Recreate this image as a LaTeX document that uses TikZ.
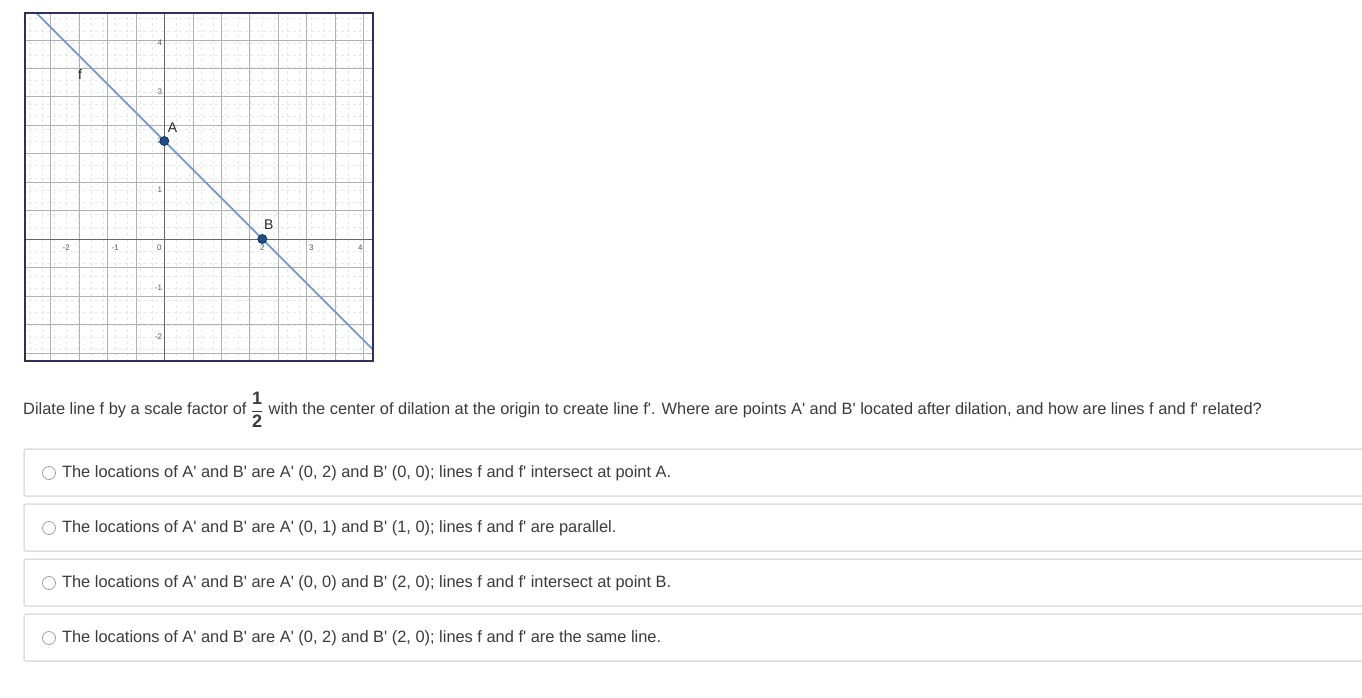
\documentclass[tikz,border=0pt]{standalone}
\usepackage{amsmath}
\usepackage{fontspec}
\setmainfont{Liberation Sans}
\usepackage{tikz}
\usetikzlibrary{positioning,calc}
\definecolor{txt}{HTML}{3A3A3A}
\definecolor{fline}{HTML}{6E9BCB}
\definecolor{fpoint}{HTML}{1F4E8C}
\definecolor{frame}{HTML}{2E2F5E}
\definecolor{boxgray}{HTML}{DEDEDE}
\newcommand{\pr}{\textquotesingle}
\tikzset{
    qtext/.style={anchor=west,inner sep=0pt,text=txt,font=\fontsize{16.4}{19}\selectfont},
    optbox/.style={draw=boxgray,line width=1.5pt,rounded corners=2pt},
    radio/.style={circle,draw=gray!75,line width=0.8pt,minimum size=13pt,inner sep=0pt},
    tick/.style={font=\fontsize{8}{9}\selectfont,text=gray!70!black,inner sep=1pt},
    dot/.style={circle,fill=fpoint,draw=fpoint!60!black,line width=0.8pt,minimum size=9pt,inner sep=0pt},
    ptlabel/.style={font=\fontsize{14}{15}\selectfont,text=black!85,inner sep=0pt}
}

\begin{document}
\begin{tikzpicture}[x=1pt,y=-1pt]
            \useasboundingbox (0,0) rectangle (1362,698);
            \begin{scope}[shift={(164.3,239)},x=49pt,y=49pt]
                \begin{scope}
                    \clip (-2.84,-2.48) rectangle (4.25,4.61);
                    \draw[gray!18,dashed,line width=0.4pt] (-3,-3) grid[step=0.25] (5,5);
                    \draw[gray!60,line width=0.5pt] (-3,-3) grid (5,5);
                    \draw[gray!80!black,line width=0.7pt] (-3,0) -- (5,0);
                    \draw[gray!80!black,line width=0.7pt] (0,-3) -- (0,5);
                    \foreach \x in {-2,-1,2,3,4}
                        \node[tick] at (\x,-0.17) {\x};
                    \foreach \y in {-2,-1,1,2,3,4}
                        \node[tick,anchor=east] at (-0.02,\y) {\y};
                    \node[tick] (O) at (-0.1,-0.17) {0};
                    \coordinate (A) at (0,2);
                    \coordinate (B) at (2,0);
                    \draw[fline,line width=1.8pt] ($(A)!-2!(B)$) -- ($(B)!-2!(A)$);
                    \node[dot] (Adot) at (A) {};
                    \node[dot] (Bdot) at (B) {};
                    \node[ptlabel] (Alab) at (0.17,2.28) {A};
                    \node[ptlabel] (Blab) at (2.13,0.3) {B};
                    \node[ptlabel] (flab) at (-1.72,3.36) {f};
                \end{scope}
                \draw[frame,line width=2pt] (-2.84,-2.48) rectangle (4.25,4.61);
            \end{scope}
            \node[qtext] (q1) at (23,410) {Dilate line f by a scale factor of};
            \node[inner sep=0pt,text=txt,font=\fontsize{18}{20}\selectfont,right=4pt of q1] (half) {$\dfrac{\text{\bfseries 1}}{\text{\bfseries 2}}$};
            \node[qtext,right=5pt of half] (q2) {with the center of dilation at the origin to create line f\pr. Where are points A\pr{} and B\pr{} located after dilation, and how are lines f and f\pr{} related?};
            \draw[optbox] (24,449) rectangle (1380,496);
            \node[radio] (r1) at (49,473) {};
            \node[qtext,right=6pt of r1] (o1) {The locations of A\pr{} and B\pr{} are A\pr{} (0, 2) and B\pr{} (0, 0); lines f and f\pr{} intersect at point A.};
            \draw[optbox] (24,504) rectangle (1380,551);
            \node[radio] (r2) at (49,528) {};
            \node[qtext,right=6pt of r2] (o2) {The locations of A\pr{} and B\pr{} are A\pr{} (0, 1) and B\pr{} (1, 0); lines f and f\pr{} are parallel.};
            \draw[optbox] (24,559) rectangle (1380,606);
            \node[radio] (r3) at (49,583) {};
            \node[qtext,right=6pt of r3] (o3) {The locations of A\pr{} and B\pr{} are A\pr{} (0, 0) and B\pr{} (2, 0); lines f and f\pr{} intersect at point B.};
            \draw[optbox] (24,614) rectangle (1380,661);
            \node[radio] (r4) at (49,638) {};
            \node[qtext,right=6pt of r4] (o4) {The locations of A\pr{} and B\pr{} are A\pr{} (0, 2) and B\pr{} (2, 0); lines f and f\pr{} are the same line.};
        \end{tikzpicture}
\end{document}
